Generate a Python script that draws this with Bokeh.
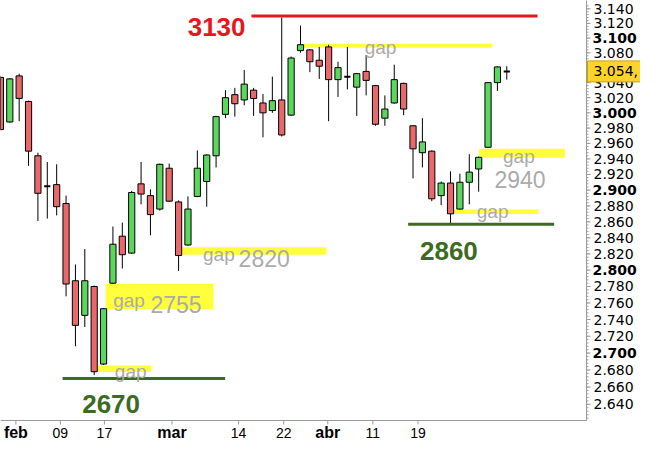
import math
from bokeh.plotting import figure
from bokeh.models import Range1d
from bokeh.embed import file_html
from bokeh.resources import INLINE
from bokeh.core.properties import value

# ---- daily candles (index 0 = first visible session) ----
open_ = [3047, 2988, 3049, 3015, 2944, 2905, 2907, 2883, 2787, 2745,
         2780, 2687, 2784, 2842, 2821, 2908, 2893, 2876, 2928, 2885,
         2831, 2892, 2911, 2944, 2998, 3024, 3017, 3030, 3013, 3003,
         3017, 2997, 3083, 3084, 3070, 3088, 3044, 3048, 3034, 3055,
         3036, 2993, 3013, 3039, 2983, 2948, 2950, 2893, 2909, 2876,
         2910, 2927, 2955, 3040, 3055]
high = [3049, 3046, 3052, 3016, 2948, 2936, 2933, 2893, 2807, 2826,
        2781, 2754, 2854, 2859, 2899, 2936, 2901, 2934, 2934, 2887,
        2892, 2951, 2946, 2996, 3030, 3033, 3057, 3033, 3025, 3048,
        3128, 3075, 3117, 3085, 3088, 3091, 3068, 3088, 3053, 3077,
        3037, 3023, 3064, 3040, 2984, 2993, 2951, 2911, 2924, 2921,
        2946, 2943, 3041, 3062, 3062]
low = [2977, 2987, 2989, 2931, 2861, 2864, 2868, 2768, 2708, 2731,
       2674, 2686, 2783, 2802, 2820, 2882, 2843, 2874, 2885, 2799,
       2830, 2891, 2879, 2929, 2993, 2995, 3010, 2996, 2968, 3000,
       2969, 2996, 3080, 3054, 3045, 2989, 3021, 3031, 2996, 3023,
       2983, 2983, 3012, 2997, 2915, 2929, 2886, 2881, 2858, 2875,
       2882, 2898, 2954, 3029, 3044]
close = [2978, 3045, 3019, 2950, 2896, 2905, 2879, 2783, 2733, 2787,
         2678, 2753, 2832, 2819, 2897, 2895, 2869, 2933, 2886, 2818,
         2876, 2928, 2945, 2995, 3020, 3012, 3038, 3019, 3000, 3016,
         2971, 3073, 3091, 3068, 3062, 3044, 3060, 3048, 3052, 3043,
         2985, 3005, 3044, 3005, 2953, 2962, 2889, 2909, 2870, 2910,
         2923, 2942, 3040, 3061, 3055]
last_price_label = "3.054,"
last_price = 3055

# ---- axis ticks ----
x_tick_labels = ["feb", "09", "17", "mar", "14", "22", "abr", "11", "19"]
x_tick_pos = [1.65, 6.39, 11.09, 18.3, 25.4, 30.21, 34.91, 39.72, 44.53]
month_names = ["feb", "mar", "abr"]
y_tick_values = list(range(2640, 3141, 20))
y_bold_values = [2700, 2800, 2900, 3000, 3100]

# ---- support / resistance levels ----
level_values = [3130, 2857, 2670]
level_labels = ["3130", "2860", "2670"]
# ---- gaps ----
gap_bottom = [2941.6, 2869.8, 2819.0, 2752.8, 2677.7]
gap_top = [2953.2, 2875.4, 2828.1, 2783.1, 2685.3]
gap_line_value = 3089.6
gap_numbers = ["2940", "2820", "2755"]
gap_number_values = [2913.0, 2814.2, 2758.7]
gap_word_values = [3087.7, 2942.7, 2872.6, 2819.0, 2763.2, 2678.5]

# ---- layout / styling (positions in index units) ----
level_x0 = [26.77, 43.48, 6.63]
level_x1 = [57.28, 59.05, 23.97]
level_text_x = [26.14, 44.74, 8.72]
level_text_y = [3115.4, 2824.0, 2640.7]
level_text_align = ["right", "left", "left"]
level_colors = ["#E3191E", "#3D6B21", "#3D6B21"]
gap_x0 = [51.04, 48.26, 19.17, 11.23, 10.33]
gap_x1 = [60.2, 57.41, 34.78, 22.72, 16.1]
gap_line_x = [32.2, 52.44]
gap_word_x = [38.85, 53.6, 50.8, 21.61, 12.03, 12.2]
gap_number_x = [52.68, 25.4, 16.0]

RED = "#E8696B"
GREEN = "#5CD75E"
YELLOW = "#FFFF3C"
GRAY_TXT = "#ABABAB"
AXIS_GRAY = "#9A9A9A"

W, H = 640, 440          # whole canvas is the plotting frame
PW, PH = 586, 420        # candle area (axes are drawn at its right / bottom edge)
xa0, xa1 = 0.01, 62.5    # index range of candle area
ya0, ya1 = 2621.3, 3151.5  # price range of candle area (log scale)

dx = (xa1 - xa0) / PW
px_per_ln = PH / math.log(ya1 / ya0)


def y_off(v, px):
    """price located px screen pixels above v on the log scale"""
    return v * math.exp(px / px_per_ln)


x_end = xa0 + W * dx
y_bottom = y_off(ya0, -(H - PH))

p = figure(width=W, height=H, x_range=Range1d(xa0, x_end), y_range=Range1d(y_bottom, ya1),
           y_axis_type="log", x_axis_location=None, y_axis_location=None,
           output_backend="svg", toolbar_location=None,
           min_border_left=0, min_border_right=0, min_border_top=0, min_border_bottom=0)
p.xgrid.visible = False
p.ygrid.visible = False
p.outline_line_color = None
p.background_fill_color = "white"
p.border_fill_color = "white"

# gap bands and line
p.quad(left=gap_x0, right=gap_x1, bottom=gap_bottom, top=gap_top,
       fill_color=YELLOW, line_color=None)
p.segment(x0=[gap_line_x[0]], x1=[gap_line_x[1]], y0=[gap_line_value], y1=[gap_line_value],
          line_color=YELLOW, line_width=4)

# candles
idx = list(range(len(open_)))
p.segment(x0=idx, x1=idx, y0=high, y1=low, line_color="black", line_width=1)
BW = 0.66
up = [i for i in idx if close[i] > open_[i]]
dn = [i for i in idx if close[i] < open_[i]]
dj = [i for i in idx if close[i] == open_[i]]
p.vbar(x=up, width=BW, top=[close[i] for i in up], bottom=[open_[i] for i in up],
       fill_color=GREEN, line_color="black", line_width=1)
p.vbar(x=dn, width=BW, top=[open_[i] for i in dn], bottom=[close[i] for i in dn],
       fill_color=RED, line_color="black", line_width=1)
p.segment(x0=[i - BW / 2 for i in dj], x1=[i + BW / 2 for i in dj],
          y0=[close[i] for i in dj], y1=[close[i] for i in dj],
          line_color="black", line_width=2)

# levels
p.segment(x0=level_x0, x1=level_x1, y0=level_values, y1=level_values,
          line_color=level_colors, line_width=3)
for t, x, y, al, c in zip(level_labels, level_text_x, level_text_y, level_text_align, level_colors):
    p.text(x=[x], y=[y], text=[t], text_font=value("Liberation Sans"), text_font_style="bold",
           text_font_size="26px", text_color=c, text_align=al, text_baseline="alphabetic")

# gap texts
p.text(x=gap_word_x, y=gap_word_values, text=["gap"] * len(gap_word_x),
       text_font=value("Liberation Sans"), text_font_size="19px", text_color=GRAY_TXT,
       text_align="left", text_baseline="alphabetic")
p.text(x=gap_number_x, y=gap_number_values, text=gap_numbers,
       text_font=value("Liberation Sans"), text_font_size="23px", text_color=GRAY_TXT,
       text_align="left", text_baseline="alphabetic")

# ---- right price axis ----
p.segment(x0=[xa1], x1=[xa1], y0=[ya1 * 1.01], y1=[ya0], line_color=AXIS_GRAY, line_width=1)
minor_vals = [v for v in range(2624, 3148, 4)]
p.segment(x0=[xa1] * len(minor_vals), x1=[xa1 + 2 * dx] * len(minor_vals),
          y0=minor_vals, y1=minor_vals, line_color=AXIS_GRAY, line_width=1)
p.segment(x0=[xa1] * len(y_tick_values), x1=[xa1 + 4 * dx] * len(y_tick_values),
          y0=y_tick_values, y1=y_tick_values, line_color=AXIS_GRAY, line_width=1)
reg_vals = [v for v in y_tick_values if v not in y_bold_values]
p.text(x=[xa1 + 7 * dx] * len(reg_vals), y=reg_vals, text=[f"{v / 1000:.3f}" for v in reg_vals],
       text_font=value("DejaVu Sans"), text_font_size="14px", text_color="black",
       text_align="left", text_baseline="middle")
p.text(x=[xa1 + 6 * dx] * len(y_bold_values), y=y_bold_values,
       text=[f"{v / 1000:.3f}" for v in y_bold_values],
       text_font=value("DejaVu Sans"), text_font_style="bold", text_font_size="14px",
       text_color="black", text_align="left", text_baseline="middle")

# last price box
p.quad(left=[xa1 + 1 * dx], right=[x_end + 5 * dx],
       bottom=[y_off(last_price, -10.5)], top=[y_off(last_price, 10.5)],
       fill_color="#FFD42A", line_color="#C9A10A", line_width=1)
p.text(x=[xa1 + 7 * dx], y=[last_price], text=[last_price_label],
       text_font=value("DejaVu Sans"), text_font_size="14px", text_color="black",
       text_align="left", text_baseline="middle")

# ---- bottom date axis ----
p.segment(x0=[xa0], x1=[xa1], y0=[ya0], y1=[ya0], line_color=AXIS_GRAY, line_width=1)
p.segment(x0=x_tick_pos, x1=x_tick_pos, y0=[ya0] * len(x_tick_pos),
          y1=[y_off(ya0, -4)] * len(x_tick_pos), line_color=AXIS_GRAY, line_width=1)
num_pos = [xp for xp, lab in zip(x_tick_pos, x_tick_labels) if lab not in month_names]
num_lab = [lab for lab in x_tick_labels if lab not in month_names]
mon_pos = [xp for xp, lab in zip(x_tick_pos, x_tick_labels) if lab in month_names]
mon_lab = [lab for lab in x_tick_labels if lab in month_names]
y_lab = y_off(ya0, -12)
p.text(x=num_pos, y=[y_lab] * len(num_pos), text=num_lab,
       text_font=value("Liberation Sans"), text_font_size="14px", text_color="black",
       text_align="center", text_baseline="middle")
p.text(x=mon_pos, y=[y_lab] * len(mon_pos), text=mon_lab,
       text_font=value("Liberation Sans"), text_font_style="bold", text_font_size="16px",
       text_color="black", text_align="center", text_baseline="middle")

open("out.html", "w").write(file_html(p, INLINE))
